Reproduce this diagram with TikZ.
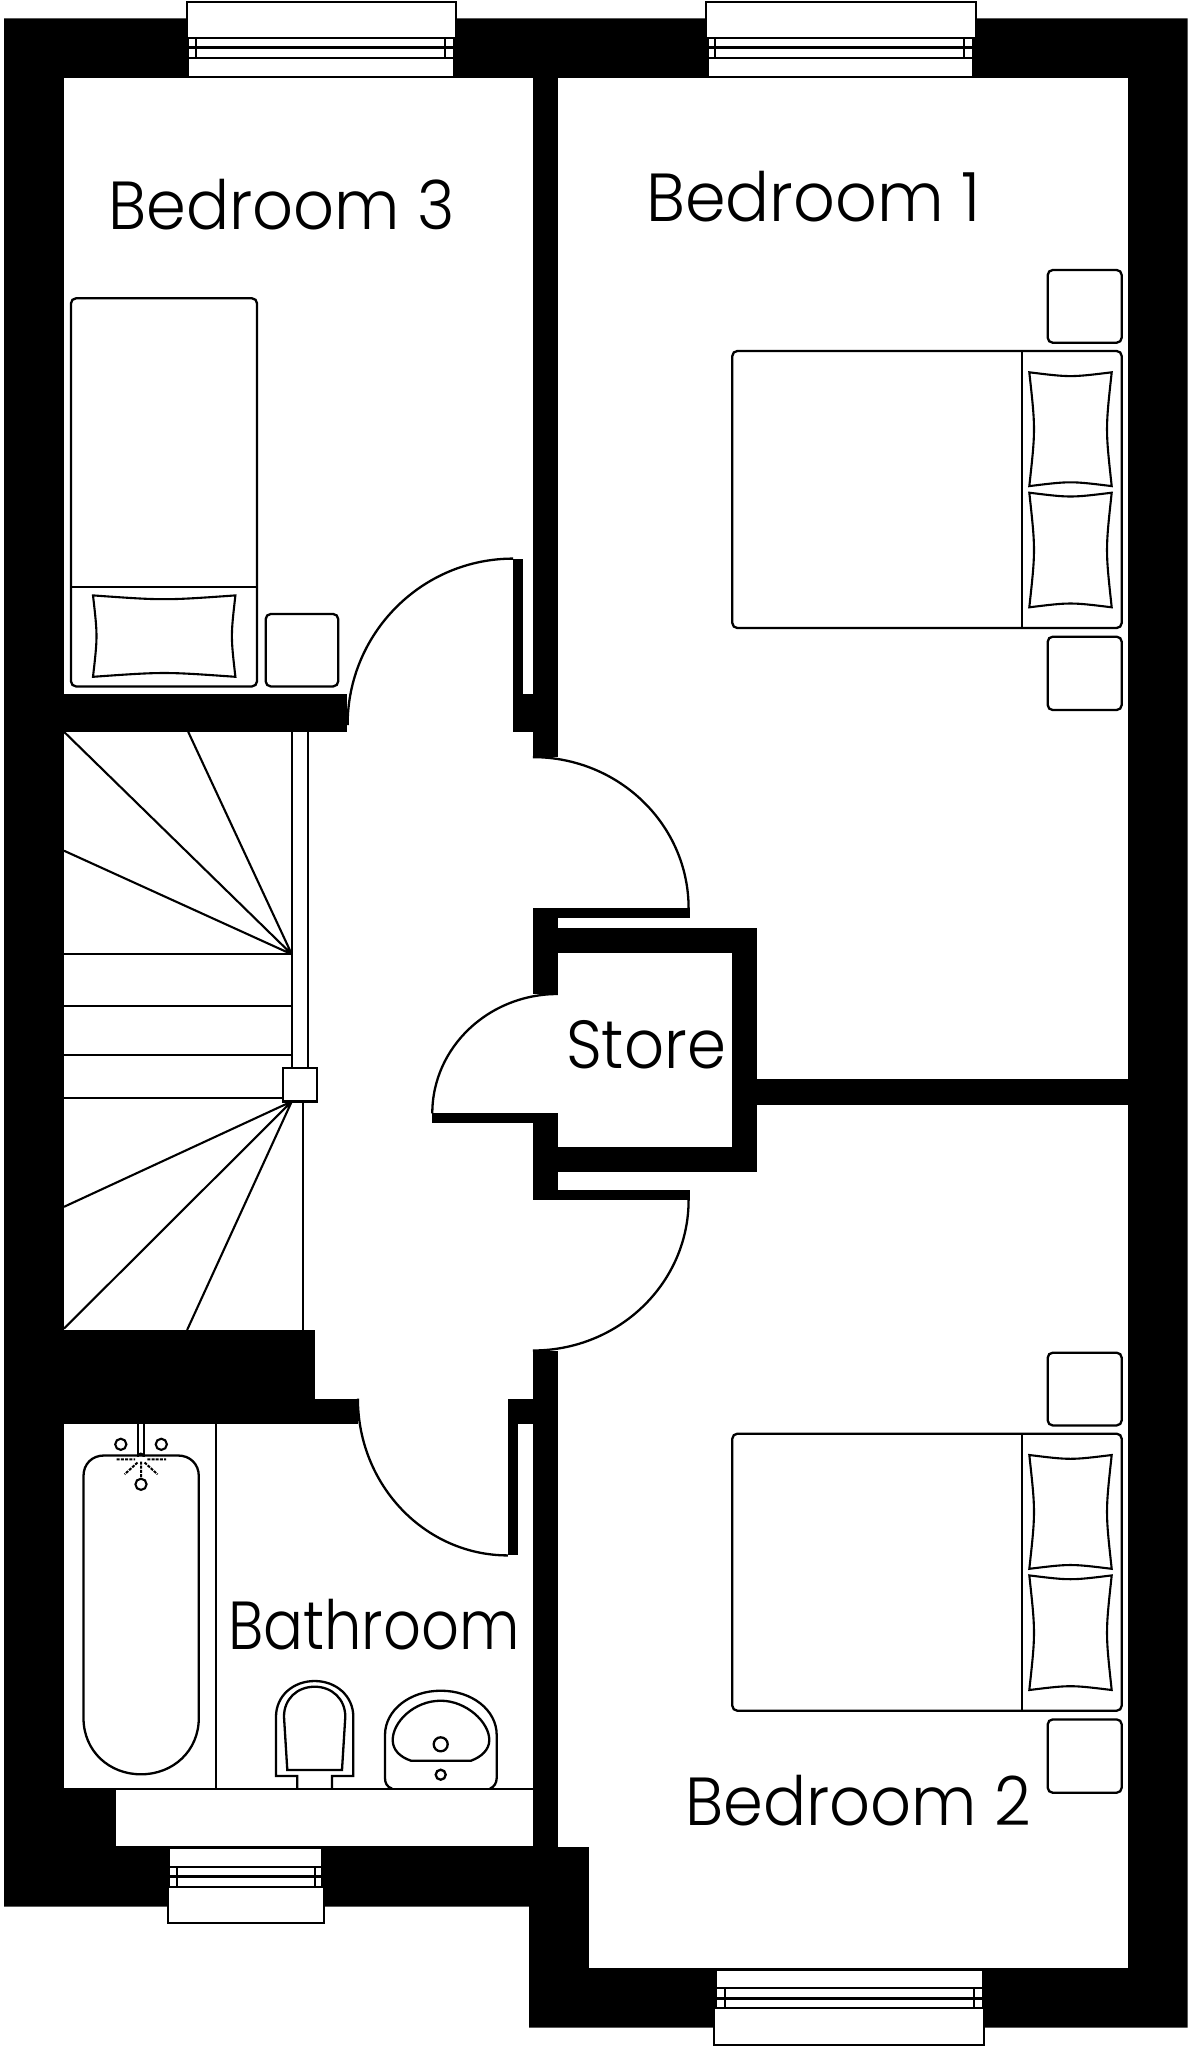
\documentclass[tikz,border=0pt]{standalone}
\usepackage{fontspec}
\setmainfont{Poppins}[UprightFont=* Light]
\tikzset{
  wall/.style={fill=black,draw=none},
  room/.style={fill=white,draw=none},
  thin/.style={draw=black,line width=2.3pt},
  fine/.style={draw=black,line width=2.1pt},
  furn/.style={draw=black,line width=2.3pt,rounded corners=5pt,fill=white},
  winpart/.style={draw=black,line width=2.3pt,fill=white},
  dashy/.style={draw=black,line width=2pt,dash pattern=on 3pt off 1.2pt},
  roomlabel/.style={anchor=base west,inner sep=0pt,font=\fontsize{68}{68}\selectfont},
}
% quarter ellipse: start, corner, end
\newcommand{\qarc}[6]{(#1,#2) .. controls ({#1+0.5523*(#3-#1)},{#2+0.5523*(#4-#2)}) and ({#5+0.5523*(#3-#5)},{#6+0.5523*(#4-#6)}) .. (#5,#6)}
% pillow: centre, half sizes, inward bow
\newcommand{\pillow}[6]{\draw[fine,fill=white] ({#1-#3},{#2-#4})
  .. controls (#1,{#2-#4+1.33*#6}) .. ({#1+#3},{#2-#4})
  .. controls ({#1+#3-1.33*#5},#2) .. ({#1+#3},{#2+#4})
  .. controls (#1,{#2+#4-1.33*#6}) .. ({#1-#3},{#2+#4})
  .. controls ({#1-#3+1.33*#5},#2) .. cycle;}
% window panes: mullion x, inner x, three levels
\newcommand{\windowbox}[7]{%
  \draw[winpart] (#3,#5) rectangle (#4,#7);
  \draw[draw=black,line width=3pt] (#3,#6) -- (#4,#6);
  \draw[thin] (#1,#5) -- (#1,#7) (#2,#5) -- (#2,#7);
}
\newcommand{\doublebed}[1]{%
\begin{scope}[yshift=#1pt*-1]
  \draw[furn] (1047.7,270) rectangle (1121.7,342.7);
  \draw[furn] (1047.7,636.7) rectangle (1121.7,710);
  \draw[furn] (732.3,351) rectangle (1121.7,628);
  \draw[thin] (1022,351) -- (1022,628);
  \pillow{1070.5}{429.2}{41.2}{56.9}{4.7}{3.8}
  \pillow{1070.5}{550}{41.2}{57.3}{4.7}{3.8}
\end{scope}}
\begin{document}
\begin{tikzpicture}[x=1pt,y=-1pt]
\useasboundingbox (0,0) rectangle (1188,2048);
\fill[white] (0,0) rectangle (1188,2048);
% shell
\fill[wall] (4.2,18.3) -- (1187.6,18.3) -- (1187.6,2027.7) -- (529,2027.7) -- (529,1906.5) -- (4.2,1906.5) -- cycle;
% rooms
\fill[room] (64.2,78.3) rectangle (532.9,1788);
\fill[room] (116,1788) rectangle (532.9,1846.4);
\fill[room] (557.9,78.3) rectangle (1127.6,1968.3);
\fill[wall] (557.9,1846.7) rectangle (589,1968.3);
\fill[room] (532.9,757.1) rectangle (557.9,908.3);
\fill[room] (532.9,994) rectangle (557.9,1113.3);
\fill[room] (532.9,1200) rectangle (557.9,1350.5);
% partition walls
\fill[wall] (64,694.3) rectangle (347.1,731.8);
\fill[wall] (513.2,693.6) rectangle (532.9,731.8);
\fill[wall] (513.2,558.6) rectangle (522.9,731.8);
\fill[wall] (532.9,908.3) rectangle (689.6,917.7);
\fill[wall] (532.9,908.3) rectangle (557.9,994);
\fill[wall] (532.9,927.7) rectangle (757.4,952.7);
\fill[wall] (731.7,927.7) rectangle (757.4,1172.3);
\fill[wall] (532.9,1147.3) rectangle (757.4,1172.3);
\fill[wall] (431.8,1113.3) rectangle (557.9,1123.2);
\fill[wall] (532.9,1113.3) rectangle (557.9,1200);
\fill[wall] (532.9,1190) rectangle (689.6,1200);
\fill[wall] (757.4,1079.3) rectangle (1127.6,1105);
\fill[wall] (64,1330) rectangle (315,1424.3);
\fill[wall] (315,1398.6) rectangle (357.9,1424.3);
\fill[wall] (507.9,1398.6) rectangle (532.9,1424.3);
\fill[wall] (507.9,1398.6) rectangle (517.9,1555.4);
% door swings
\draw[thin] \qarc{347.6}{725}{347.6}{558.6}{513.2}{558.6};
\draw[thin] \qarc{532.9}{757.1}{688.6}{757.1}{688.6}{908.3};
\draw[thin] \qarc{432.3}{1113.3}{432.3}{994}{557.9}{994};
\draw[thin] \qarc{688.6}{1200}{688.6}{1350.5}{532.9}{1350.5};
\draw[thin] \qarc{357.9}{1398.6}{357.9}{1555.4}{507.9}{1555.4};
% stairs
\draw[thin] (291.8,731.8) -- (291.8,1068) (307.9,731.8) -- (307.9,1068);
\draw[thin] (303.2,1101.4) -- (303.2,1330);
\draw[fine] (64,954.3) -- (291.8,954.3) (64,1006.1) -- (291.8,1006.1) (64,1055.4) -- (291.8,1055.4) (64,1097.9) -- (283,1097.9);
\draw[fine] (64,731.8) -- (291.8,954.3) (188.2,731.8) -- (291.8,954.3) (64,850.7) -- (291.8,954.3);
\draw[fine] (291.8,1101.4) -- (64,1206.8) (291.8,1101.4) -- (64,1328.6) (291.8,1101.4) -- (187.1,1330);
\draw[thin,fill=white] (282.9,1067.9) rectangle (316.8,1101.4);
% windows
\draw[winpart] (186.7,2) rectangle (455.7,37.7);
\draw[winpart] (188.3,57.7) rectangle (454.3,77);
\windowbox{195.7}{445.3}{188.3}{454.3}{37.7}{47.7}{57.7}
\draw[winpart] (705.8,2) rectangle (975.8,37.7);
\draw[winpart] (708,57.7) rectangle (973.6,77);
\windowbox{715}{964}{708}{973.6}{37.7}{47.7}{57.7}
\draw[winpart] (169.3,1847.5) rectangle (322.5,1866.8);
\draw[winpart] (167.9,1887) rectangle (324.3,1923);
\windowbox{177}{315}{169.3}{322.5}{1866.8}{1876.8}{1887}
\draw[winpart] (716.3,1970) rectangle (982.7,1988.3);
\draw[winpart] (714,2008.3) rectangle (984,2045);
\windowbox{725}{974}{716.3}{982.7}{1988.3}{1998.3}{2008.3}
% bedroom 3
\draw[furn] (71,298.3) rectangle (257,686.4);
\draw[thin] (71,587) -- (257,587);
\pillow{164.2}{636.1}{71.2}{40.7}{3.5}{3.8}
\draw[furn] (265.7,614) rectangle (338.2,686.4);
% double beds
\doublebed{0}
\doublebed{1082.7}
% bathroom
\draw[thin] (216,1424.3) -- (216,1788.6);
\draw[thin] (116,1788.8) -- (532.9,1788.8);
\draw[thin] (83.5,1476) .. controls (83.5,1464) and (92,1455.5) .. (104,1455.5) -- (178,1455.5) .. controls (190,1455.5) and (198.8,1464) .. (198.8,1476) -- (198.8,1718) .. controls (198.8,1751) and (173,1774.3) .. (141,1774.3) .. controls (109,1774.3) and (83.5,1751) .. (83.5,1718) -- cycle;
\draw[fine] (137.8,1424.3) -- (137.8,1456.5) (143.6,1424.3) -- (143.6,1456.5);
\draw[fine] (137.8,1456.5) arc (180:360:2.9);
\draw[fine] (120.8,1444.3) circle (5.6) (161.3,1444.3) circle (5.6) (141,1484.3) circle (5.6);
\draw[dashy] (116.7,1459.4) -- (135,1459.4) (147.3,1459.4) -- (166,1459.4) (141,1461.5) -- (141,1478.5) (137.5,1462.5) -- (124.6,1474.3) (144.6,1462.5) -- (157.5,1474.3);
% toilet
\draw[thin] (297.3,1788) -- (297.3,1776) -- (276,1776) -- (276,1716.7) .. controls (276,1696) and (293,1681) .. (314.7,1681) .. controls (336,1681) and (353.3,1696) .. (353.3,1716.7) -- (353.3,1776) -- (332,1776) -- (332,1788);
\draw[thin] (287.3,1770) -- (284,1716.7) .. controls (284,1699) and (297,1686.7) .. (314.7,1686.7) .. controls (332,1686.7) and (345.3,1699) .. (345.3,1716.7) -- (342,1770) -- cycle;
% basin
\draw[thin] (392,1788.6) .. controls (387,1787) and (385,1783) .. (385,1778) -- (385,1735) .. controls (385,1710) and (410,1690.7) .. (440.8,1690.7) .. controls (472,1690.7) and (496.7,1710) .. (496.7,1735) -- (496.7,1778) .. controls (496.7,1783) and (494,1787) .. (490,1788.6);
\draw[thin] (411,1760.7) .. controls (400,1757) and (392.7,1750) .. (392.7,1740) .. controls (392.7,1722) and (414,1700.7) .. (440.8,1700.7) .. controls (466,1700.7) and (489.3,1722) .. (489.3,1740) .. controls (489.3,1750) and (481,1757) .. (471,1760.7) -- cycle;
\draw[thin] (440.7,1744.3) circle (7) (440.7,1774.7) circle (5);
% labels
\node[roomlabel] (bed3) at (108.5,229) {\scalebox{.94}[1]{Bedroom 3}};
\node[roomlabel] (bed1) at (646,221) {\scalebox{.96}[1]{Bedroom 1}};
\node[roomlabel] (bed2) at (685,1825) {\scalebox{.94}[1]{Bedroom 2}};
\node[roomlabel] (bath) at (228,1649) {\scalebox{.87}[1]{Bathroom}};
\node[roomlabel] (store) at (566,1068.3) {\scalebox{.92}[1]{Store}};
\end{tikzpicture}
\end{document}
